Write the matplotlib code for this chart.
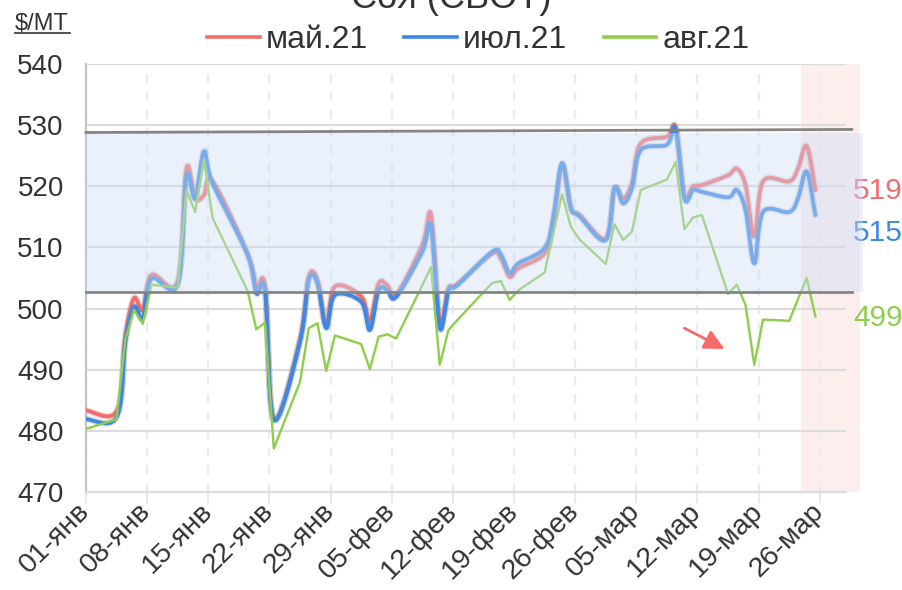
import numpy as np
import pandas as pd
import matplotlib
matplotlib.use('Agg')
import matplotlib.pyplot as plt
import matplotlib.dates as mdates
import matplotlib.patheffects as pe
from matplotlib.lines import Line2D
from matplotlib.patches import Rectangle

plt.rcParams['font.family'] = ['Liberation Sans', 'DejaVu Sans']

# trading days (points sit at midday)
dates = ['2020-12-31',
         '2021-01-04', '2021-01-05', '2021-01-06', '2021-01-07', '2021-01-08',
         '2021-01-11', '2021-01-12', '2021-01-13', '2021-01-14', '2021-01-15',
         '2021-01-19', '2021-01-20', '2021-01-21', '2021-01-22',
         '2021-01-25', '2021-01-26', '2021-01-27', '2021-01-28', '2021-01-29',
         '2021-02-01', '2021-02-02', '2021-02-03', '2021-02-04', '2021-02-05',
         '2021-02-08', '2021-02-09', '2021-02-10', '2021-02-11', '2021-02-12',
         '2021-02-16', '2021-02-17', '2021-02-18', '2021-02-19',
         '2021-02-22', '2021-02-23', '2021-02-24', '2021-02-25', '2021-02-26',
         '2021-03-01', '2021-03-02', '2021-03-03', '2021-03-04', '2021-03-05',
         '2021-03-08', '2021-03-09', '2021-03-10', '2021-03-11', '2021-03-12',
         '2021-03-15', '2021-03-16', '2021-03-17', '2021-03-18', '2021-03-19',
         '2021-03-22', '2021-03-23', '2021-03-24', '2021-03-25']

may21 = [483.5,
         483.2, 495.5, 501.7, 499.8, 505.5,
         504.4, 522.9, 518.0, 518.5, 520.8,
         509.0, 503.6, 503.6, 482.0,
         494.9, 505.2, 504.7, 497.3, 503.6,
         502.0, 497.9, 504.1, 503.8, 502.2,
         510.4, 515.3, 497.9, 503.3, 504.0,
         509.0, 508.2, 505.2, 506.6,
         509.0, 514.0, 523.5, 516.4, 515.3,
         511.5, 519.7, 518.0, 520.5, 527.0,
         528.1, 529.6, 518.6, 520.0, 520.2,
         521.8, 522.9, 520.2, 511.8, 520.8,
         520.8, 522.9, 526.6, 519.4]

jul21 = [482.0,
         482.2, 494.5, 500.3, 498.4, 504.9,
         503.9, 521.6, 518.0, 525.7, 520.5,
         508.8, 502.5, 503.0, 481.8,
         494.6, 504.7, 504.1, 496.8, 502.2,
         501.1, 496.5, 503.0, 503.0, 501.9,
         509.3, 513.4, 496.8, 503.0, 503.8,
         509.3, 508.8, 505.8, 507.4,
         509.9, 515.0, 523.8, 516.6, 515.1,
         511.2, 519.7, 517.2, 519.7, 525.9,
         526.8, 529.4, 518.0, 519.4, 519.1,
         518.2, 519.4, 516.1, 507.4, 515.8,
         515.8, 518.0, 522.4, 515.3]

aug21 = [480.1,
         481.9, 494.9, 499.8, 497.5, 503.9,
         503.4, 519.4, 515.8, 524.3, 514.8,
         502.9, 496.6, 497.7, 477.1,
         488.0, 496.8, 497.6, 489.8, 495.6,
         494.2, 490.1, 495.4, 495.8, 495.1,
         503.8, 506.8, 490.8, 496.5, 498.1,
         504.2, 504.5, 501.4, 503.0,
         505.9, 512.3, 518.7, 513.4, 511.3,
         507.3, 513.8, 511.2, 512.6, 519.4,
         521.1, 524.0, 513.0, 514.9, 515.3,
         502.4, 503.9, 500.6, 490.8, 498.2,
         498.0, 501.5, 505.0, 498.7]

tick_labels = ['01-янв', '08-янв', '15-янв', '22-янв', '29-янв', '05-фев',
               '12-фев', '19-фев', '26-фев', '05-мар', '12-мар', '19-мар', '26-мар']
series_names = ['май.21', 'июл.21', 'авг.21']
colors = ['#f76b6b', '#3d88e6', '#8dce4c']
last_labels = ['519', '515', '499']
channel_top = [528.8, 529.3]
channel_bottom = 502.7


def smooth(x, y, n=20):
    # Catmull-Rom spline through the points
    p = np.column_stack([x, y])
    p = np.vstack([2 * p[0] - p[1], p, 2 * p[-1] - p[-2]])
    t = np.linspace(0, 1, n, endpoint=False)[:, None]
    h00 = 2 * t**3 - 3 * t**2 + 1
    h10 = t**3 - 2 * t**2 + t
    h01 = -2 * t**3 + 3 * t**2
    h11 = t**3 - t**2
    out = []
    for i in range(1, len(p) - 2):
        m0 = (p[i + 1] - p[i - 1]) / 2
        m1 = (p[i + 2] - p[i]) / 2
        out.append(h00 * p[i] + h10 * m0 + h01 * p[i + 1] + h11 * m1)
    out.append(p[-2][None, :])
    out = np.vstack(out)
    return out[:, 0], out[:, 1]


x = mdates.date2num(pd.to_datetime(dates) + pd.Timedelta(hours=12))
start = mdates.date2num(pd.Timestamp('2021-01-01'))
tick_pos = start + 7 * np.arange(len(tick_labels))

fig = plt.figure(figsize=(9.02, 5.90), dpi=100)
ax = fig.add_axes([0.0953, 0.1661, 0.8426, 0.7254])
ax.set_xlim(start, start + 87.0)
ax.set_ylim(470, 540)

# pink band for the last days
ax.add_patch(Rectangle((start + 81.8, 470), 6.85, 70, facecolor='#fdeeee',
                       edgecolor='none', zorder=0.2, clip_on=False))

ax.set_axisbelow(True)
ax.grid(axis='y', color='#dcdcdc', lw=1.6)
ax.grid(axis='x', color='#ebebeb', lw=1.6, linestyle=(0, (4, 4)))

halo = [pe.Stroke(linewidth=4.8, foreground='#888888', alpha=0.25), pe.Normal()]
for vals, c in [(may21, colors[0]), (jul21, colors[1])]:
    sx, sy = smooth(x, np.array(vals))
    ax.plot(sx, sy, color=c, lw=2.8, zorder=3, path_effects=halo,
            solid_capstyle='round')
ax.plot(x, aug21, color=colors[2], lw=1.7, zorder=3)

# price channel
band_x = np.array([start, start + 88.9])
ax.fill_between(band_x, channel_bottom, 528.7, color='#cddef7', alpha=0.42,
                lw=0, zorder=5, clip_on=False)
ax.plot([start, start + 87.66], channel_top, color='#858585', lw=2.0,
        zorder=6, clip_on=False)
ax.plot([start, start + 87.66], [channel_bottom, channel_bottom],
        color='#858585', lw=2.0, zorder=6, clip_on=False)

ax.annotate('', xy=(start + 73.1, 493.4), xytext=(start + 68.5, 496.8),
            arrowprops=dict(arrowstyle='-|>,head_length=0.8,head_width=0.4',
                            mutation_scale=15, color='#f76b6b', lw=2,
                            shrinkA=0, shrinkB=0))

for lab, yv, c in zip(last_labels, [519.2, 512.4, 498.5], colors):
    ax.text(start + 87.8, yv, lab, color=c, fontsize=21.5, va='center',
            ha='left', clip_on=False)

ax.set_yticks(np.arange(470, 541, 10))
ax.set_xticks(tick_pos)
ax.set_xticklabels(tick_labels, rotation=45, ha='right', va='center',
                   rotation_mode='anchor')
ax.tick_params(axis='y', length=0, pad=16, labelsize=20, labelcolor='#333333')
ax.tick_params(axis='x', length=8, width=1.5, color='#e6e6e6', pad=3,
               labelsize=20.5, labelcolor='#333333')
for s in ['top', 'right']:
    ax.spines[s].set_visible(False)
ax.spines['left'].set_color('#c4c4c4')
ax.spines['left'].set_linewidth(1.6)
ax.spines['bottom'].set_color('#dcdcdc')
ax.spines['bottom'].set_linewidth(1.6)

handles = [Line2D([], [], color=c, lw=2.6) for c in colors]
fig.legend(handles, series_names, loc='center', bbox_to_anchor=(0.530, 0.932),
           ncol=3, frameon=False, fontsize=23, handlelength=1.65,
           handletextpad=0.18, columnspacing=1.15, labelcolor='#333333')

fig.text(0.5, 1 - 8 / 590, 'Соя (CBOT)', fontsize=26, color='#333333',
         ha='center', va='baseline')
fig.text(15 / 902, 1 - 30 / 590, '$/MT', fontsize=17, color='#333333',
         ha='left', va='baseline')
fig.add_artist(Line2D([15 / 902, 70 / 902], [1 - 33 / 590, 1 - 33 / 590],
                      color='#333333', lw=1.2))

fig.savefig('out.png', dpi=100)
